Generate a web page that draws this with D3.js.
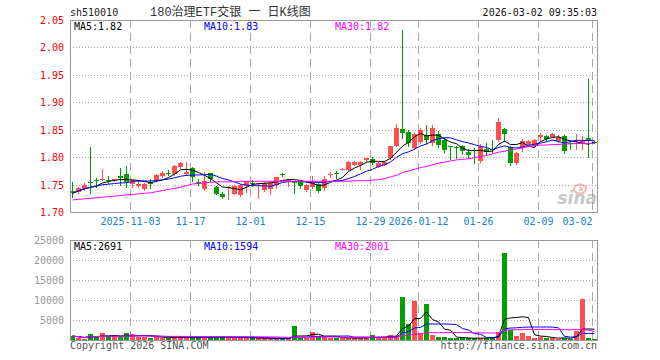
<!DOCTYPE html>
<html>
<head>
<meta charset="utf-8">
<script src="https://cdn.jsdelivr.net/npm/d3@7"></script>
<style>
body { margin: 0; background: #fff; }
svg { display: block; }
text { font-family: "DejaVu Sans Mono", monospace; font-size: 10px; }
</style>
</head>
<body>
<div id="chart"></div>
<script>
// trading days shown on the chart
var dates = [
  "2025-10-20","2025-10-21","2025-10-22","2025-10-23","2025-10-24","2025-10-27","2025-10-28","2025-10-29","2025-10-30","2025-10-31",
  "2025-11-03","2025-11-04","2025-11-05","2025-11-06","2025-11-07","2025-11-10","2025-11-11","2025-11-12","2025-11-13","2025-11-14",
  "2025-11-17","2025-11-18","2025-11-19","2025-11-20","2025-11-21","2025-11-24","2025-11-25","2025-11-26","2025-11-27","2025-11-28",
  "2025-12-01","2025-12-02","2025-12-03","2025-12-04","2025-12-05","2025-12-08","2025-12-09","2025-12-10","2025-12-11","2025-12-12",
  "2025-12-15","2025-12-16","2025-12-17","2025-12-18","2025-12-19","2025-12-22","2025-12-23","2025-12-24","2025-12-25","2025-12-26",
  "2025-12-29","2025-12-30","2025-12-31","2026-01-05","2026-01-06","2026-01-07","2026-01-08","2026-01-09","2026-01-12","2026-01-13",
  "2026-01-14","2026-01-15","2026-01-16","2026-01-19","2026-01-20","2026-01-21","2026-01-22","2026-01-23","2026-01-26","2026-01-27",
  "2026-01-28","2026-01-29","2026-01-30","2026-02-02","2026-02-03","2026-02-04","2026-02-05","2026-02-06","2026-02-09","2026-02-10",
  "2026-02-11","2026-02-12","2026-02-13","2026-02-24","2026-02-25","2026-02-26","2026-02-27","2026-03-02"
];

var open = [
  1.738,1.736,1.742,1.755,1.758,1.759,1.758,1.759,1.766,1.770,
  1.751,1.748,1.742,1.752,1.759,1.766,1.772,1.769,1.782,1.770,
  1.780,1.755,1.742,1.771,1.746,1.733,1.744,1.733,1.730,1.746,
  1.753,1.751,1.741,1.742,1.749,1.769,1.756,1.754,1.754,1.740,
  1.745,1.751,1.743,1.768,1.771,1.777,1.778,1.786,1.786,1.794,
  1.796,1.783,1.787,1.798,1.821,1.852,1.845,1.817,1.827,1.841,
  1.825,1.843,1.831,1.820,1.819,1.820,1.809,1.813,1.793,1.814,
  1.814,1.832,1.852,1.819,1.790,1.817,1.823,1.821,1.837,1.839,
  1.838,1.829,1.838,1.826,1.824,1.826,1.834,1.828
];
var high = [
  1.755,1.746,1.752,1.819,1.762,1.778,1.765,1.761,1.780,1.783,
  1.759,1.759,1.752,1.760,1.770,1.774,1.776,1.786,1.791,1.792,
  1.782,1.760,1.773,1.772,1.748,1.737,1.747,1.749,1.751,1.757,
  1.759,1.753,1.754,1.756,1.764,1.771,1.760,1.756,1.756,1.751,
  1.765,1.753,1.765,1.773,1.775,1.780,1.793,1.793,1.793,1.799,
  1.801,1.791,1.793,1.821,1.861,2.032,1.849,1.845,1.853,1.858,
  1.859,1.847,1.835,1.821,1.820,1.822,1.814,1.817,1.824,1.826,
  1.831,1.872,1.854,1.821,1.809,1.833,1.831,1.833,1.844,1.840,
  1.844,1.841,1.840,1.829,1.843,1.838,1.942,1.829
];
var low = [
  1.728,1.734,1.741,1.734,1.745,1.758,1.753,1.757,1.749,1.745,
  1.745,1.745,1.740,1.743,1.757,1.764,1.767,1.767,1.780,1.768,
  1.757,1.749,1.740,1.757,1.732,1.726,1.723,1.732,1.729,1.736,
  1.747,1.725,1.739,1.732,1.744,1.765,1.748,1.734,1.744,1.738,
  1.743,1.736,1.741,1.763,1.762,1.776,1.777,1.785,1.778,1.793,
  1.788,1.782,1.786,1.797,1.820,1.835,1.820,1.815,1.825,1.826,
  1.822,1.819,1.810,1.797,1.799,1.806,1.799,1.790,1.792,1.803,
  1.810,1.829,1.829,1.786,1.787,1.812,1.821,1.819,1.829,1.829,
  1.837,1.828,1.808,1.815,1.814,1.814,1.800,1.826
];
var close = [
  1.734,1.743,1.750,1.753,1.757,1.761,1.757,1.760,1.762,1.756,
  1.758,1.751,1.751,1.751,1.768,1.772,1.771,1.784,1.789,1.773,
  1.764,1.752,1.756,1.760,1.733,1.727,1.746,1.748,1.749,1.756,
  1.752,1.752,1.753,1.753,1.763,1.767,1.759,1.753,1.746,1.749,
  1.754,1.738,1.760,1.769,1.769,1.779,1.792,1.792,1.792,1.798,
  1.789,1.790,1.792,1.820,1.853,1.845,1.825,1.843,1.849,1.831,
  1.853,1.823,1.812,1.818,1.817,1.810,1.803,1.811,1.820,1.808,
  1.812,1.864,1.842,1.789,1.808,1.830,1.830,1.832,1.841,1.833,
  1.843,1.837,1.810,1.824,1.826,1.829,1.829,1.827
];
var volume = [
  1000,600,300,1400,800,1700,1000,700,800,1700,
  1400,800,800,600,700,600,600,800,800,400,
  900,700,900,800,800,700,700,600,600,500,
  400,400,400,300,400,300,400,3500,400,500,
  2000,900,800,500,400,500,600,400,500,500,
  1200,800,700,1200,1000,10700,3900,9700,1800,9000,
  1200,800,700,600,400,500,400,400,600,500,
  800,2100,21800,2400,1000,1800,1000,400,700,500,
  500,300,600,300,2200,10200,500,300
];
// 30-day average (it needs days before the window)
var ma30 = [
  1.722,1.723,1.724,1.725,1.726,1.727,1.728,1.729,1.730,1.731,
  1.732,1.733,1.734,1.735,1.737,1.739,1.741,1.743,1.745,1.748,
  1.751,1.752,1.753,1.754,1.755,1.755,1.755,1.755,1.756,1.756,
  1.756,1.756,1.756,1.756,1.756,1.756,1.756,1.756,1.756,1.756,
  1.756,1.756,1.756,1.756,1.756,1.756,1.756,1.757,1.757,1.757,
  1.758,1.759,1.761,1.764,1.767,1.772,1.775,1.778,1.781,1.783,
  1.786,1.789,1.791,1.793,1.795,1.796,1.797,1.799,1.801,1.803,
  1.806,1.809,1.811,1.813,1.815,1.817,1.819,1.821,1.822,1.822,
  1.823,1.823,1.824,1.824,1.825,1.825,1.825,1.825
];

var priceTicks = [1.70, 1.75, 1.80, 1.85, 1.90, 1.95, 2.00, 2.05];
var volTicks = [5000, 10000, 15000, 20000, 25000];
var tickDates = ["2025-11-03","2025-11-17","2025-12-01","2025-12-15","2025-12-29","2026-01-12","2026-01-26","2026-02-09","2026-03-02"];
var tickLabels = ["2025-11-03","11-17","12-01","12-15","12-29","2026-01-12","01-26","02-09","03-02"];
var priceMaLabels = ["MA5:1.82", "MA10:1.83", "MA30:1.82"];
var volMaLabels = ["MA5:2691", "MA10:1594", "MA30:2001"];

var W = 660, H = 360;
var left = 70, right = 597;
var pTop = 20, pBot = 212, vTop = 240, vBot = 340;
var RED = "#ff4f4f", GREEN = "#009f00";
var maColors = ["#000000", "#0000ff", "#ff00ff"];

function movingAvg(arr, n) {
    return arr.map(function(v, i) {
        return d3.mean(arr.slice(Math.max(0, i - n + 1), i + 1));
    });
}

var svg = d3.select("#chart").append("svg")
    .attr("width", W).attr("height", H);

var x = d3.scaleBand().domain(dates).range([left - 1, right]);
var y = d3.scaleLinear().domain([1.70, 2.05]).range([pBot, pTop]);
var yv = d3.scaleLinear().domain([0, 25000]).range([vBot, vTop]);

var rows = dates.map(function(d, i) {
    return {date: d, o: open[i], h: high[i], l: low[i], c: close[i], v: volume[i], up: close[i] >= open[i]};
});

// grids
function grid(g, yScale, vals, top, bot) {
    g.selectAll("line.h").data(vals).enter().append("line")
        .attr("x1", left).attr("x2", right)
        .attr("y1", function(d) { return Math.round(yScale(d)) + 0.5; })
        .attr("y2", function(d) { return Math.round(yScale(d)) + 0.5; })
        .attr("stroke", "#a8a8a8").attr("stroke-dasharray", "1,2");
    g.selectAll("line.v").data(tickDates).enter().append("line")
        .attr("x1", function(d) { return x(d) + 1.5; })
        .attr("x2", function(d) { return x(d) + 1.5; })
        .attr("y1", top).attr("y2", bot)
        .attr("stroke", "#a8a8a8").attr("stroke-dasharray", "8,5");
}
grid(svg.append("g"), y, [1.75, 1.80, 1.85, 1.90, 1.95, 2.00], pTop, pBot);
grid(svg.append("g"), yv, [5000, 10000, 15000, 20000], vTop, vBot);

// sina watermark
var wm = svg.append("g").attr("opacity", 0.55);
wm.append("ellipse").attr("cx", 580).attr("cy", 189).attr("rx", 6).attr("ry", 4.5)
    .attr("fill", "none").attr("stroke", "#f08080").attr("stroke-width", 2);
wm.append("circle").attr("cx", 581).attr("cy", 189).attr("r", 2).attr("fill", "#f08080");
wm.append("text").attr("x", 597).attr("y", 204).attr("text-anchor", "end")
    .style("font-family", "DejaVu Sans").style("font-size", "17px")
    .style("font-weight", "bold").style("font-style", "italic")
    .attr("fill", "#9a9a9a").text("sina");

// candles
var candle = svg.append("g").attr("shape-rendering", "crispEdges")
    .selectAll("g").data(rows).enter().append("g");
candle.append("line")
    .attr("x1", function(d) { return x(d.date) + 3.5; })
    .attr("x2", function(d) { return x(d.date) + 3.5; })
    .attr("y1", function(d) { return Math.round(y(d.h)); })
    .attr("y2", function(d) { return Math.round(y(d.l)) + 1; })
    .attr("stroke", function(d) { return d.up ? RED : GREEN; });
candle.append("rect")
    .attr("x", function(d) { return x(d.date) + 1; })
    .attr("width", 5)
    .attr("y", function(d) { return Math.round(y(Math.max(d.o, d.c))); })
    .attr("height", function(d) { return Math.max(1, Math.round(Math.abs(y(d.o) - y(d.c)))); })
    .attr("fill", function(d) { return d.up ? RED : GREEN; });

// volume bars
svg.append("g").attr("shape-rendering", "crispEdges")
    .selectAll("rect").data(rows).enter().append("rect")
    .attr("x", function(d) { return x(d.date) + 1; })
    .attr("width", 5)
    .attr("y", function(d) { return Math.round(yv(d.v)); })
    .attr("height", function(d) { return vBot - Math.round(yv(d.v)); })
    .attr("fill", function(d) { return d.up ? RED : GREEN; });

// moving average lines
var priceMas = [movingAvg(close, 5), movingAvg(close, 10), ma30];
var volMas = [movingAvg(volume, 5), movingAvg(volume, 10), movingAvg(volume, 30)];
function maLine(scale) {
    return d3.line()
        .x(function(d, i) { return x(dates[i]) + 3.5; })
        .y(function(d) { return scale(d); });
}
priceMas.forEach(function(s, k) {
    svg.append("path").datum(s).attr("d", maLine(y))
        .attr("fill", "none").attr("stroke", maColors[k]).attr("stroke-width", 1);
});
volMas.forEach(function(s, k) {
    svg.append("path").datum(s).attr("d", maLine(yv))
        .attr("fill", "none").attr("stroke", maColors[k]).attr("stroke-width", 1);
});

// frames
svg.append("rect").attr("x", left).attr("y", pTop).attr("width", right - left).attr("height", pBot - pTop)
    .attr("fill", "none").attr("stroke", "#999").attr("shape-rendering", "crispEdges");
svg.append("rect").attr("x", left).attr("y", vTop).attr("width", right - left).attr("height", vBot - vTop)
    .attr("fill", "none").attr("stroke", "#999").attr("shape-rendering", "crispEdges");

// axes
var pAxis = svg.append("g").attr("transform", "translate(" + (left - 3) + ",0)")
    .call(d3.axisLeft(y).tickValues(priceTicks).tickSize(0).tickFormat(d3.format(".2f")));
pAxis.select(".domain").remove();
pAxis.selectAll("text").attr("fill", "#ff0000").style("font-size", "10px").attr("dy", "0.35em");

var vAxis = svg.append("g").attr("transform", "translate(" + (left - 3) + ",0)")
    .call(d3.axisLeft(yv).tickValues(volTicks).tickSize(0).tickFormat(d3.format("d")));
vAxis.select(".domain").remove();
vAxis.selectAll("text").attr("fill", "#999").style("font-size", "10px").attr("dy", "0.35em");

svg.append("g").selectAll("text").data(tickDates).enter().append("text")
    .attr("x", function(d) { return x(d) + 1.5; })
    .attr("y", 225)
    .attr("text-anchor", function(d, i) { return i === tickDates.length - 1 ? "end" : "middle"; })
    .attr("fill", "#1283d0")
    .text(function(d, i) { return tickLabels[i]; });

// MA legends
var maX = [74, 204, 335];
svg.append("g").selectAll("text").data(priceMaLabels).enter().append("text")
    .attr("x", function(d, i) { return maX[i]; }).attr("y", 30)
    .attr("fill", function(d, i) { return maColors[i]; })
    .text(function(d) { return d; });
svg.append("g").selectAll("text").data(volMaLabels).enter().append("text")
    .attr("x", function(d, i) { return maX[i]; }).attr("y", 250)
    .attr("fill", function(d, i) { return maColors[i]; })
    .text(function(d) { return d; });

// titles
svg.append("text").attr("x", 70).attr("y", 16).attr("fill", "#222")
    .text("sh510010");
svg.append("text").attr("x", 150).attr("y", 16).attr("fill", "#333")
    .style("font-family", "'Liberation Mono', 'Noto Sans CJK SC', monospace")
    .style("font-size", "12px").text("180治理ETF交银 一 日K线图");
svg.append("text").attr("x", 597).attr("y", 16).attr("text-anchor", "end").attr("fill", "#111")
    .text("2026-03-02 09:35:03");
svg.append("text").attr("x", 70).attr("y", 349).attr("fill", "#555")
    .text("Copyright 2026 SINA.COM");
svg.append("text").attr("x", 597).attr("y", 349).attr("text-anchor", "end").attr("fill", "#555")
    .text("http://finance.sina.com.cn");
</script>
</body>
</html>
